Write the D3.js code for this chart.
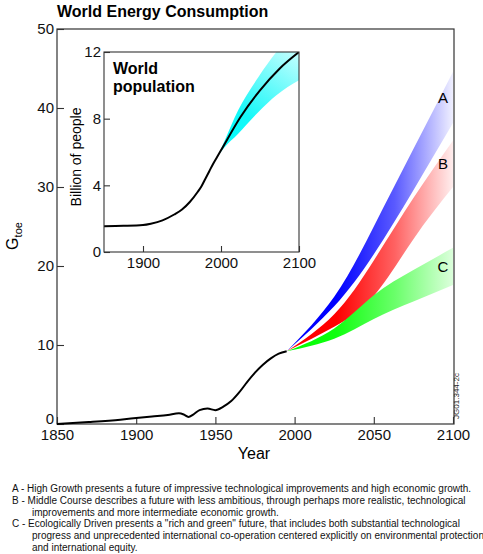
<!DOCTYPE html>
<html>
<head>
<meta charset="utf-8">
<script src="https://cdn.jsdelivr.net/npm/d3@7"></script>
<style>
  html, body { margin: 0; padding: 0; background: #fff; }
  svg { display: block; font-family: "Liberation Sans", Arial, Helvetica, sans-serif; }
</style>
</head>
<body>
<svg id="chart" width="483" height="554"></svg>
<script>
// ---------------- DATA ----------------
const title = "World Energy Consumption";
const xTicks = [1850, 1900, 1950, 2000, 2050, 2100];
const yTicks = [0, 10, 20, 30, 40, 50];

const historyYears  = [1850, 1870, 1890, 1900, 1910, 1920, 1927, 1930, 1933, 1936, 1940, 1945, 1950, 1955, 1960, 1965, 1970, 1975, 1980, 1985, 1990, 1995];
const historyEnergy = [0.0, 0.25, 0.55, 0.75, 0.95, 1.15, 1.35, 1.2, 0.9, 1.2, 1.75, 1.95, 1.75, 2.2, 2.9, 4.0, 5.3, 6.5, 7.5, 8.3, 8.9, 9.2];

const scenarioYears = [1995, 2025, 2050, 2075, 2100];
const scenarioNames = ["A", "B", "C"];
const aLow  = [9.2, 14.9, 21.5, 29.6, 38.1];
const aHigh = [9.2, 16.1, 25.0, 34.8, 44.6];
const bLow  = [9.2, 12.3, 16.2, 23.4, 30.0];
const bHigh = [9.2, 13.9, 20.7, 28.6, 35.9];
const cLow  = [9.2, 10.8, 13.3, 15.5, 17.6];
const cHigh = [9.2, 12.1, 16.3, 19.5, 22.3];

const popYears = [1850, 1875, 1900, 1910, 1925, 1940, 1950, 1960, 1970, 1975, 1980, 1985, 1990, 1995, 2000, 2025, 2050, 2075, 2100];
const popValues = [1.55, 1.57, 1.62, 1.7, 1.9, 2.25, 2.55, 3.0, 3.6, 3.95, 4.4, 4.85, 5.3, 5.7, 6.1, 8.1, 9.7, 11.0, 12.0];
const popBandYears = [1995, 2003, 2022, 2048, 2071, 2100];
const popLow  = [5.7, 6.2, 7.1, 8.4, 9.4, 10.3];
const popHigh = [5.7, 6.5, 8.5, 10.5, 12.0, 13.4];
const popXTicks = [1900, 2000, 2100];
const popYTicks = [0, 4, 8, 12];

const footnotes = [
  ["A - High Growth presents a future of impressive technological improvements and high economic growth.", false],
  ["B - Middle Course describes a future with less ambitious, through perhaps more realistic, technological", false],
  ["improvements and more intermediate economic growth.", true],
  ["C - Ecologically Driven presents a \"rich and green\" future, that includes both substantial technological", false],
  ["progress and unprecedented international co-operation centered explicitly on environmental protection", true],
  ["and international equity.", true]
];

// ---------------- DRAW ----------------
const svg = d3.select("#chart");
const defs = svg.append("defs");

const M = {left: 57, right: 454, top: 29, bottom: 424};
const x = d3.scaleLinear().domain([1850, 2100]).range([M.left, 453]);
const y = d3.scaleLinear().domain([0, 50]).range([M.bottom, M.top]);

// title
svg.append("text").attr("x", 57).attr("y", 17)
  .attr("font-size", 16).attr("font-weight", "bold").text(title);

// frame
svg.append("rect").attr("x", M.left).attr("y", M.top)
  .attr("width", M.right - M.left).attr("height", M.bottom - M.top)
  .attr("fill", "none").attr("stroke", "#333").attr("stroke-width", 1.2);

// axes
const gx = svg.append("g").attr("transform", `translate(0,${M.bottom})`)
  .call(d3.axisBottom(x).tickValues(xTicks).tickFormat(d3.format("d")).tickSizeInner(-7).tickSizeOuter(0).tickPadding(5));
const gy = svg.append("g").attr("transform", `translate(${M.left},0)`)
  .call(d3.axisLeft(y).tickValues(yTicks).tickSizeInner(-7).tickSizeOuter(0).tickPadding(3));
[gx, gy].forEach(g => {
  g.select(".domain").remove();
  g.selectAll("line").attr("stroke", "#333").attr("stroke-width", 1.1);
  g.selectAll("text").attr("font-size", 15).attr("fill", "#111")
    .attr("font-family", "Liberation Sans, Arial, sans-serif");
});
gy.selectAll(".tick").filter(d => d === 0).select("text").attr("dy", "-0.05em");

// axis titles
svg.append("text").attr("x", 254).attr("y", 459).attr("text-anchor", "middle")
  .attr("font-size", 16).text("Year");
const gt = svg.append("text").attr("transform", "translate(18,236) rotate(-90)")
  .attr("text-anchor", "middle").attr("font-size", 16);
gt.append("tspan").text("G");
gt.append("tspan").attr("font-size", 11).attr("dy", 4).text("toe");

// scenario gradients
const gradSpecs = [
  {id: "gA", stops: [[0, "#0000ff"], [0.3, "#0000ff"], [0.65, "#5a5aff"], [1, "#f0f0ff"]]},
  {id: "gB", stops: [[0, "#ff0000"], [0.3, "#ff0000"], [0.65, "#ff6262"], [1, "#ffeeee"]]},
  {id: "gC", stops: [[0, "#00ff00"], [0.3, "#10ff10"], [0.65, "#6aff6a"], [1, "#dcffdc"]]}
];
gradSpecs.forEach(s => {
  const g = defs.append("linearGradient").attr("id", s.id).attr("gradientUnits", "userSpaceOnUse")
    .attr("x1", x(1995)).attr("x2", x(2100)).attr("y1", 0).attr("y2", 0);
  s.stops.forEach(([o, c]) => g.append("stop").attr("offset", o).attr("stop-color", c));
});

const bands = [
  {name: "A", low: aLow, high: aHigh, fill: "url(#gA)"},
  {name: "B", low: bLow, high: bHigh, fill: "url(#gB)"},
  {name: "C", low: cLow, high: cHigh, fill: "url(#gC)"}
];
const area = d3.area().curve(d3.curveNatural);
bands.forEach(b => {
  const pts = scenarioYears.map((yr, i) => [x(yr), y(b.low[i]), y(b.high[i])]);
  svg.append("path")
    .attr("d", area.x(d => d[0]).y0(d => d[1]).y1(d => d[2])(pts))
    .attr("fill", b.fill);
  const last = scenarioYears.length - 1;
  svg.append("text").attr("x", x(2100) - 10)
    .attr("y", (y(b.low[last]) + y(b.high[last])) / 2 + 5.5)
    .attr("text-anchor", "middle").attr("font-size", 15).text(b.name);
});

// history line
svg.append("path")
  .attr("d", d3.line().curve(d3.curveMonotoneX).x((d, i) => x(historyYears[i])).y(d => y(d))(historyEnergy))
  .attr("fill", "none").attr("stroke", "#000").attr("stroke-width", 2);

// code
svg.append("text").attr("transform", "translate(459,396) rotate(-90)")
  .attr("text-anchor", "middle").attr("font-size", 8).attr("fill", "#222").text("JG01.344-2c");

// ---------------- INSET ----------------
const I = {left: 104, right: 299, top: 52, bottom: 252};
const ix = d3.scaleLinear().domain([1850, 2100]).range([I.left, I.right]);
const iy = d3.scaleLinear().domain([0, 12]).range([I.bottom, I.top]);

svg.append("rect").attr("x", I.left).attr("y", I.top)
  .attr("width", I.right - I.left).attr("height", I.bottom - I.top)
  .attr("fill", "#fff");

defs.append("clipPath").attr("id", "insetClip").append("rect")
  .attr("x", I.left).attr("y", I.top).attr("width", I.right - I.left).attr("height", I.bottom - I.top);

const gP = defs.append("linearGradient").attr("id", "gP").attr("gradientUnits", "userSpaceOnUse")
  .attr("x1", ix(1995)).attr("x2", ix(2100)).attr("y1", iy(5)).attr("y2", iy(12.5));
[[0, "#00ffff"], [0.4, "#14f8f8"], [1, "#d4ffff"]].forEach(([o, c]) => gP.append("stop").attr("offset", o).attr("stop-color", c));

const pBand = popBandYears.map((yr, i) => [ix(yr), iy(popLow[i]), iy(popHigh[i])]);
svg.append("path").attr("clip-path", "url(#insetClip)")
  .attr("d", d3.area().curve(d3.curveMonotoneX).x(d => d[0]).y0(d => d[1]).y1(d => d[2])(pBand))
  .attr("fill", "url(#gP)");

svg.append("path").attr("clip-path", "url(#insetClip)")
  .attr("d", d3.line().curve(d3.curveMonotoneX).x((d, i) => ix(popYears[i])).y(d => iy(d))(popValues))
  .attr("fill", "none").attr("stroke", "#000").attr("stroke-width", 2);

svg.append("rect").attr("x", I.left).attr("y", I.top)
  .attr("width", I.right - I.left).attr("height", I.bottom - I.top)
  .attr("fill", "none").attr("stroke", "#333").attr("stroke-width", 1.1);

const igx = svg.append("g").attr("transform", `translate(0,${I.bottom})`)
  .call(d3.axisBottom(ix).tickValues(popXTicks).tickFormat(d3.format("d")).tickSizeInner(-6).tickSizeOuter(0).tickPadding(5));
const igy = svg.append("g").attr("transform", `translate(${I.left},0)`)
  .call(d3.axisLeft(iy).tickValues(popYTicks).tickSizeInner(-6).tickSizeOuter(0).tickPadding(3));
[igx, igy].forEach(g => {
  g.select(".domain").remove();
  g.selectAll("line").attr("stroke", "#333").attr("stroke-width", 1.1);
  g.selectAll("text").attr("font-size", 15).attr("fill", "#111")
    .attr("font-family", "Liberation Sans, Arial, sans-serif");
});

svg.append("text").attr("transform", "translate(81,157) rotate(-90)")
  .attr("text-anchor", "middle").attr("font-size", 14).text("Billion of people");
svg.append("text").attr("x", 113).attr("y", 74).attr("font-size", 16).attr("font-weight", "bold").text("World");
svg.append("text").attr("x", 113).attr("y", 92).attr("font-size", 16).attr("font-weight", "bold").text("population");

// ---------------- FOOTNOTES ----------------
const fn = svg.append("g").attr("font-size", 10).attr("fill", "#111");
footnotes.forEach(([t, indent], i) => {
  fn.append("text").attr("x", indent ? 32 : 12).attr("y", 492 + i * 11.8).text(t);
});
</script>
</body>
</html>
